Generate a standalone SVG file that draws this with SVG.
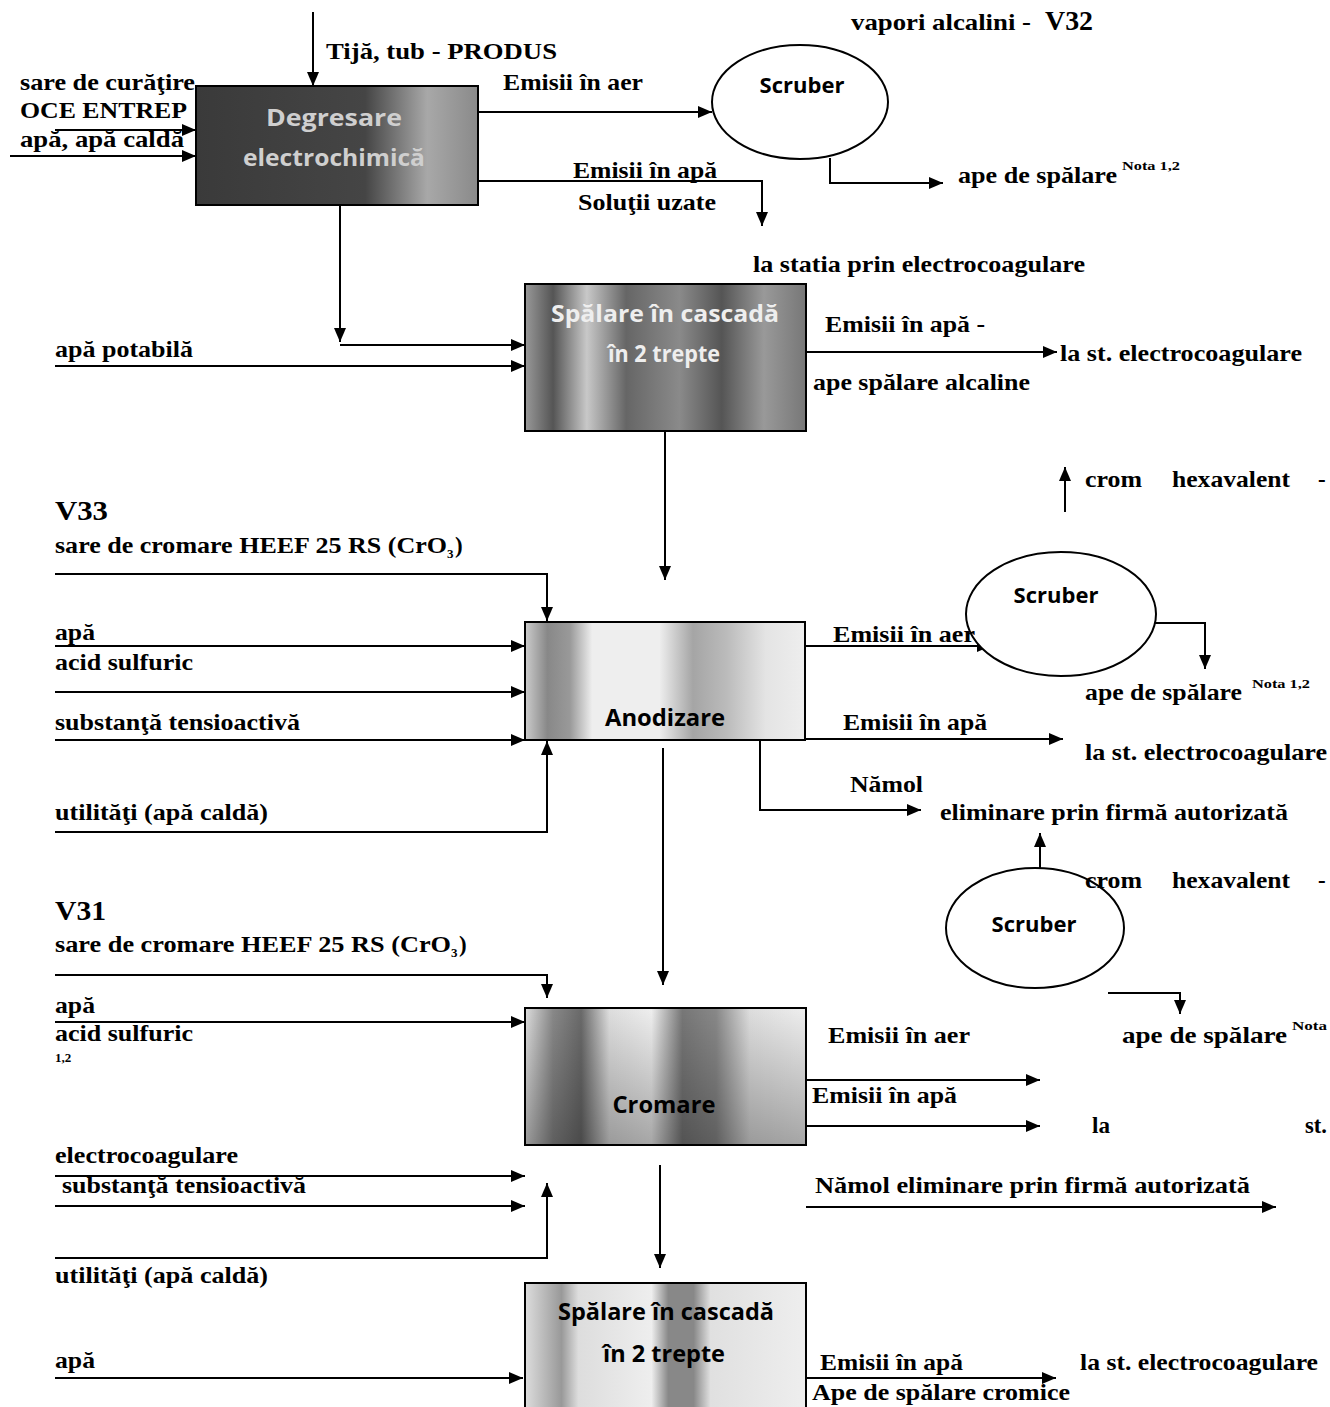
<svg xmlns="http://www.w3.org/2000/svg" width="1330" height="1407" viewBox="0 0 1330 1407">
<defs>
<style>
.t{font-family:"Liberation Serif","Times New Roman",serif;font-weight:bold;font-size:23px;fill:#000}
.big{font-size:27px}
.sup{font-size:13px}
.bx{font-family:"Open Sans","Liberation Sans",sans-serif;font-weight:bold;font-size:24px;text-anchor:middle}
.sc{font-size:22px}
.ln{fill:none;stroke:#000;stroke-width:2}
.box{stroke:#000;stroke-width:2}
.ell{stroke:#000;stroke-width:2;fill:#fff}
</style>
<marker id="ah" viewBox="0 0 14 12" refX="14" refY="6" markerWidth="14" markerHeight="12" markerUnits="userSpaceOnUse" orient="auto">
<path d="M0,0 L14,6 L0,12 Z" fill="#000"/>
</marker>
<linearGradient id="gDeg" x1="0" y1="0" x2="1" y2="0">
<stop offset="0" stop-color="#3a3a3a"/><stop offset="0.6" stop-color="#454545"/><stop offset="0.82" stop-color="#a8a8a8"/><stop offset="1" stop-color="#8a8a8a"/>
</linearGradient>
<linearGradient id="gSp1" x1="0" y1="0" x2="1" y2="0">
<stop offset="0" stop-color="#999"/><stop offset="0.1" stop-color="#555"/><stop offset="0.22" stop-color="#c8c8c8"/><stop offset="0.36" stop-color="#666"/><stop offset="0.55" stop-color="#8a8a8a"/><stop offset="0.7" stop-color="#555"/><stop offset="0.85" stop-color="#999"/><stop offset="1" stop-color="#777"/>
</linearGradient>
<linearGradient id="gAno" x1="0" y1="0" x2="1" y2="0">
<stop offset="0" stop-color="#ccc"/><stop offset="0.08" stop-color="#888"/><stop offset="0.16" stop-color="#999"/><stop offset="0.24" stop-color="#eee"/><stop offset="0.48" stop-color="#eee"/><stop offset="0.6" stop-color="#a5a5a5"/><stop offset="0.72" stop-color="#bbb"/><stop offset="0.86" stop-color="#e4e4e4"/><stop offset="1" stop-color="#eee"/>
</linearGradient>
<linearGradient id="gCro" x1="0" y1="0" x2="1" y2="0">
<stop offset="0" stop-color="#ddd"/><stop offset="0.1" stop-color="#888"/><stop offset="0.2" stop-color="#6a6a6a"/><stop offset="0.3" stop-color="#ddd"/><stop offset="0.45" stop-color="#eee"/><stop offset="0.56" stop-color="#777"/><stop offset="0.68" stop-color="#888"/><stop offset="0.8" stop-color="#ddd"/><stop offset="1" stop-color="#eee"/>
</linearGradient>
<linearGradient id="gShade" x1="0" y1="0" x2="0" y2="1">
<stop offset="0" stop-color="#000" stop-opacity="0"/><stop offset="1" stop-color="#000" stop-opacity="0.3"/>
</linearGradient>
<linearGradient id="gSp3" x1="0" y1="0" x2="1" y2="0">
<stop offset="0" stop-color="#ddd"/><stop offset="0.13" stop-color="#999"/><stop offset="0.19" stop-color="#ddd"/><stop offset="0.45" stop-color="#eee"/><stop offset="0.51" stop-color="#888"/><stop offset="0.6" stop-color="#888"/><stop offset="0.66" stop-color="#e0e0e0"/><stop offset="1" stop-color="#eee"/>
</linearGradient>
</defs>
<rect width="1330" height="1407" fill="#fff"/>

<g id="connectors">
<path class="ln" d="M313,12 V86" marker-end="url(#ah)"/>
<path class="ln" d="M55,130 H196" marker-end="url(#ah)"/>
<path class="ln" d="M10,156 H196" marker-end="url(#ah)"/>
<path class="ln" d="M478,112 H712" marker-end="url(#ah)"/>
<path class="ln" d="M478,181 H762 V226" marker-end="url(#ah)"/>
<path class="ln" d="M830,158 V183 H943" marker-end="url(#ah)"/>
<path class="ln" d="M340,205 V342" marker-end="url(#ah)"/>
<path class="ln" d="M340,345 H525" marker-end="url(#ah)"/>
<path class="ln" d="M55,366 H525" marker-end="url(#ah)"/>
<path class="ln" d="M806,352 H1057" marker-end="url(#ah)"/>
<path class="ln" d="M665,431 V580" marker-end="url(#ah)"/>
<path class="ln" d="M1065,512 V467" marker-end="url(#ah)"/>
<path class="ln" d="M55,574 H547 V621" marker-end="url(#ah)"/>
<path class="ln" d="M55,646 H525" marker-end="url(#ah)"/>
<path class="ln" d="M55,692 H525" marker-end="url(#ah)"/>
<path class="ln" d="M55,740 H525" marker-end="url(#ah)"/>
<path class="ln" d="M55,832 H547 V741" marker-end="url(#ah)"/>
<path class="ln" d="M805,646 H991" marker-end="url(#ah)"/>
<path class="ln" d="M1153,623 H1205 V669" marker-end="url(#ah)"/>
<path class="ln" d="M805,739 H1063" marker-end="url(#ah)"/>
<path class="ln" d="M760,740 V810 H921" marker-end="url(#ah)"/>
<path class="ln" d="M663,748 V985" marker-end="url(#ah)"/>
<path class="ln" d="M1040,881 V833" marker-end="url(#ah)"/>
<path class="ln" d="M55,975 H547 V998" marker-end="url(#ah)"/>
<path class="ln" d="M55,1022 H525" marker-end="url(#ah)"/>
<path class="ln" d="M1108,993 H1180 V1014" marker-end="url(#ah)"/>
<path class="ln" d="M806,1080 H1040" marker-end="url(#ah)"/>
<path class="ln" d="M806,1126 H1040" marker-end="url(#ah)"/>
<path class="ln" d="M55,1176 H525" marker-end="url(#ah)"/>
<path class="ln" d="M55,1206 H525" marker-end="url(#ah)"/>
<path class="ln" d="M55,1258 H547 V1183" marker-end="url(#ah)"/>
<path class="ln" d="M660,1165 V1268" marker-end="url(#ah)"/>
<path class="ln" d="M806,1207 H1276" marker-end="url(#ah)"/>
<path class="ln" d="M55,1378 H523" marker-end="url(#ah)"/>
<path class="ln" d="M806,1378 H1056" marker-end="url(#ah)"/>
</g>

<g id="degresare">
<rect class="box" x="196" y="86" width="282" height="119" fill="url(#gDeg)"/>
<text class="bx" x="334" y="126" fill="#cfcfcf" textLength="136" lengthAdjust="spacingAndGlyphs">Degresare</text>
<text class="bx" x="334" y="166" fill="#cfcfcf" textLength="182" lengthAdjust="spacingAndGlyphs">electrochimică</text>
</g>

<g id="scruber1">
<ellipse class="ell" cx="800" cy="102" rx="88" ry="57" fill="#f3f3f3"/>
<text class="bx sc" x="802" y="93" fill="#000">Scruber</text>
</g>

<g id="spalare1">
<rect class="box" x="525" y="284" width="281" height="147" fill="url(#gSp1)"/>
<text class="bx" x="665" y="322" fill="#eee" textLength="228" lengthAdjust="spacingAndGlyphs">Spălare în  cascadă</text>
<text class="bx" x="664" y="362" fill="#eee" textLength="112" lengthAdjust="spacingAndGlyphs">în 2 trepte</text>
</g>

<g id="scruber2">
<ellipse class="ell" cx="1061" cy="614" rx="95" ry="62"/>
<text class="bx sc" x="1056" y="603" fill="#000">Scruber</text>
</g>

<g id="anodizare">
<rect class="box" x="525" y="622" width="280" height="118" fill="url(#gAno)"/>
<text class="bx" x="665" y="726" fill="#000" textLength="120" lengthAdjust="spacingAndGlyphs">Anodizare</text>
</g>

<g id="scruber3">
<ellipse class="ell" cx="1035" cy="928" rx="89" ry="60"/>
<text class="bx sc" x="1034" y="932" fill="#000">Scruber</text>
</g>

<g id="cromare">
<rect class="box" x="525" y="1008" width="281" height="137" fill="url(#gCro)"/>
<rect x="526" y="1009" width="279" height="135" fill="url(#gShade)"/>
<text class="bx" x="664" y="1113" fill="#000" textLength="103" lengthAdjust="spacingAndGlyphs">Cromare</text>
</g>

<g id="spalare2">
<rect class="box" x="525" y="1283" width="281" height="130" fill="url(#gSp3)"/>
<text class="bx" x="666" y="1320" fill="#000" textLength="216" lengthAdjust="spacingAndGlyphs">Spălare în cascadă</text>
<text class="bx" x="664" y="1362" fill="#000" textLength="122" lengthAdjust="spacingAndGlyphs">în  2 trepte</text>
</g>

<g id="labels">
<text class="t" x="326" y="59" textLength="231" lengthAdjust="spacingAndGlyphs">Tijă, tub -  PRODUS</text>
<text class="t" x="851" y="30" textLength="180" lengthAdjust="spacingAndGlyphs">vapori alcalini  -</text>
<text class="t big" x="1045" y="30" textLength="48" lengthAdjust="spacingAndGlyphs">V32</text>
<text class="t" x="20" y="90" textLength="175" lengthAdjust="spacingAndGlyphs">sare de curăţire</text>
<text class="t" x="20" y="118" textLength="167" lengthAdjust="spacingAndGlyphs">OCE ENTREP</text>
<text class="t" x="20" y="147" textLength="164" lengthAdjust="spacingAndGlyphs">apă,  apă caldă</text>
<text class="t" x="503" y="90" textLength="140" lengthAdjust="spacingAndGlyphs">Emisii în aer</text>
<text class="t" x="573" y="178" textLength="144" lengthAdjust="spacingAndGlyphs">Emisii în apă</text>
<text class="t" x="578" y="210" textLength="138" lengthAdjust="spacingAndGlyphs">Soluţii uzate</text>
<text class="t" x="958" y="183" textLength="159" lengthAdjust="spacingAndGlyphs">ape de spălare</text>
<text class="t sup" x="1122" y="170" textLength="58" lengthAdjust="spacingAndGlyphs">Nota 1,2</text>
<text class="t" x="753" y="272" textLength="332" lengthAdjust="spacingAndGlyphs">la statia prin electrocoagulare</text>
<text class="t" x="55" y="357" textLength="138" lengthAdjust="spacingAndGlyphs">apă potabilă</text>
<text class="t" x="825" y="332" textLength="160" lengthAdjust="spacingAndGlyphs">Emisii în apă -</text>
<text class="t" x="1060" y="361" textLength="242" lengthAdjust="spacingAndGlyphs">la st. electrocoagulare</text>
<text class="t" x="813" y="390" textLength="217" lengthAdjust="spacingAndGlyphs">ape spălare alcaline</text>
<text class="t" x="1085" y="487" textLength="57" lengthAdjust="spacingAndGlyphs">crom</text>
<text class="t" x="1172" y="487" textLength="118" lengthAdjust="spacingAndGlyphs">hexavalent</text>
<text class="t" x="1318" y="487">-</text>
<text class="t big" x="55" y="520" textLength="53" lengthAdjust="spacingAndGlyphs">V33</text>
<text class="t" x="55" y="553" textLength="392" lengthAdjust="spacingAndGlyphs">sare de cromare HEEF 25 RS (CrO</text>
<text class="t sup" x="447" y="558">3</text>
<text class="t" x="455" y="553">)</text>
<text class="t" x="55" y="640" textLength="40" lengthAdjust="spacingAndGlyphs">apă</text>
<text class="t" x="55" y="670" textLength="138" lengthAdjust="spacingAndGlyphs">acid sulfuric</text>
<text class="t" x="55" y="730" textLength="245" lengthAdjust="spacingAndGlyphs">substanţă tensioactivă</text>
<text class="t" x="55" y="820" textLength="213" lengthAdjust="spacingAndGlyphs">utilităţi (apă caldă)</text>
<text class="t" x="833" y="642" textLength="142" lengthAdjust="spacingAndGlyphs">Emisii în aer</text>
<text class="t" x="1085" y="700" textLength="157" lengthAdjust="spacingAndGlyphs">ape de spălare</text>
<text class="t sup" x="1252" y="688" textLength="58" lengthAdjust="spacingAndGlyphs">Nota 1,2</text>
<text class="t" x="843" y="730" textLength="144" lengthAdjust="spacingAndGlyphs">Emisii în apă</text>
<text class="t" x="1085" y="760" textLength="242" lengthAdjust="spacingAndGlyphs">la st. electrocoagulare</text>
<text class="t" x="850" y="792" textLength="73" lengthAdjust="spacingAndGlyphs">Nămol</text>
<text class="t" x="940" y="820" textLength="348" lengthAdjust="spacingAndGlyphs">eliminare prin firmă autorizată</text>
<text class="t" x="1085" y="888" textLength="57" lengthAdjust="spacingAndGlyphs">crom</text>
<text class="t" x="1172" y="888" textLength="118" lengthAdjust="spacingAndGlyphs">hexavalent</text>
<text class="t" x="1318" y="888">-</text>
<text class="t big" x="55" y="920" textLength="51" lengthAdjust="spacingAndGlyphs">V31</text>
<text class="t" x="55" y="952" textLength="396" lengthAdjust="spacingAndGlyphs">sare de cromare HEEF 25  RS (CrO</text>
<text class="t sup" x="451" y="957">3</text>
<text class="t" x="459" y="952">)</text>
<text class="t" x="55" y="1013" textLength="40" lengthAdjust="spacingAndGlyphs">apă</text>
<text class="t" x="55" y="1041" textLength="138" lengthAdjust="spacingAndGlyphs">acid sulfuric</text>
<text class="t sup" x="55" y="1062">1,2</text>
<text class="t" x="828" y="1043" textLength="142" lengthAdjust="spacingAndGlyphs">Emisii în aer</text>
<text class="t" x="1122" y="1043" textLength="165" lengthAdjust="spacingAndGlyphs">ape de  spălare</text>
<text class="t sup" x="1292" y="1030" textLength="35" lengthAdjust="spacingAndGlyphs">Nota</text>
<text class="t" x="812" y="1103" textLength="145" lengthAdjust="spacingAndGlyphs">Emisii în apă</text>
<text class="t" x="1092" y="1133" textLength="18" lengthAdjust="spacingAndGlyphs">la</text>
<text class="t" x="1305" y="1133" textLength="22" lengthAdjust="spacingAndGlyphs">st.</text>
<text class="t" x="55" y="1163" textLength="183" lengthAdjust="spacingAndGlyphs">electrocoagulare</text>
<text class="t" x="62" y="1193" textLength="244" lengthAdjust="spacingAndGlyphs">substanţă tensioactivă</text>
<text class="t" x="55" y="1283" textLength="213" lengthAdjust="spacingAndGlyphs">utilităţi (apă caldă)</text>
<text class="t" x="815" y="1193" textLength="435" lengthAdjust="spacingAndGlyphs">Nămol  eliminare prin firmă autorizată</text>
<text class="t" x="55" y="1368" textLength="40" lengthAdjust="spacingAndGlyphs">apă</text>
<text class="t" x="820" y="1370" textLength="143" lengthAdjust="spacingAndGlyphs">Emisii în apă</text>
<text class="t" x="812" y="1400" textLength="258" lengthAdjust="spacingAndGlyphs">Ape de spălare cromice</text>
<text class="t" x="1080" y="1370" textLength="238" lengthAdjust="spacingAndGlyphs">la st. electrocoagulare</text>
</g>
</svg>
